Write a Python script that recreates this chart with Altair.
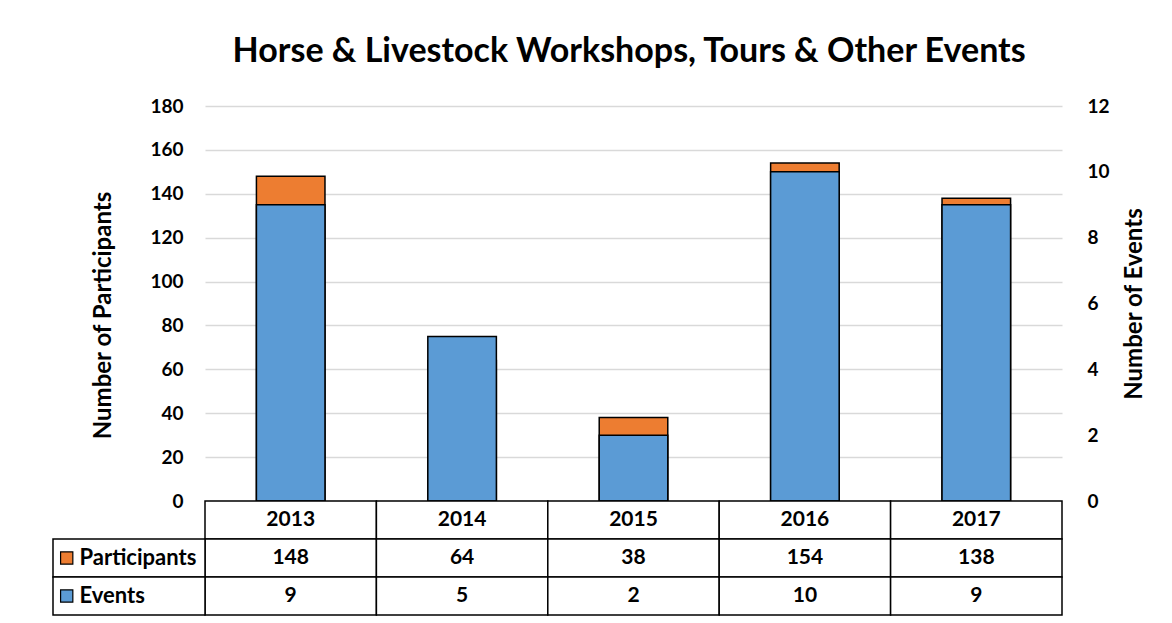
import altair as alt
import pandas as pd

years = ["2013", "2014", "2015", "2016", "2017"]
participants = [148, 64, 38, 154, 138]
events = [9, 5, 2, 10, 9]
series_names = ["Participants", "Events"]
left_ticks = [0, 20, 40, 60, 80, 100, 120, 140, 160, 180]
right_ticks = [0, 2, 4, 6, 8, 10, 12]

ORANGE = "#ED7D31"
BLUE = "#5B9BD5"
FONT = "Lato"
W, H = 857, 395
ROW_H = 38
LABEL_COL = 152 / (W / 5)  # label column width in column units

df = pd.DataFrame({"Year": years, "Participants": participants, "Events": events})

xenc = alt.X("Year:N", axis=None, sort=years,
             scale=alt.Scale(paddingInner=0.6, paddingOuter=0.3))

orange = alt.Chart(df).mark_bar(color=ORANGE, stroke="black", strokeWidth=1.5).encode(
    x=xenc,
    y=alt.Y("Participants:Q",
            scale=alt.Scale(domain=[0, 180], nice=False),
            axis=alt.Axis(values=left_ticks, title="Number of Participants",
                          grid=True, gridColor="#d9d9d9", gridWidth=1.5,
                          domain=False, ticks=False, labelPadding=22,
                          labelFont=FONT, labelFontSize=19, labelFontWeight="bold",
                          labelColor="black", titleFont=FONT, titleFontSize=24,
                          titleFontWeight="bold", titleColor="black", titlePadding=34,
                          titleY=209)),
)

blue = alt.Chart(df).mark_bar(color=BLUE, stroke="black", strokeWidth=1.5).encode(
    x=xenc,
    y=alt.Y("Events:Q",
            scale=alt.Scale(domain=[0, 12], nice=False),
            axis=alt.Axis(orient="right", values=right_ticks, title="Number of Events",
                          grid=False, domain=False, ticks=False, labelPadding=25,
                          labelFont=FONT, labelFontSize=19, labelFontWeight="bold",
                          labelColor="black", titleFont=FONT, titleFontSize=24,
                          titleFontWeight="bold", titleColor="black", titlePadding=37,
                          titleAngle=270)),
)

top = alt.layer(orange, blue).resolve_scale(y="independent").properties(width=W, height=H)

# ---- data table ----
rows = ["h", "p", "e"]
cells = []
for i, yr in enumerate(years):
    cells.append({"row": "h", "x0": i, "x1": i + 1, "xc": i + 0.5, "label": yr})
    cells.append({"row": "p", "x0": i, "x1": i + 1, "xc": i + 0.5, "label": str(participants[i])})
    cells.append({"row": "e", "x0": i, "x1": i + 1, "xc": i + 0.5, "label": str(events[i])})
for r in ["p", "e"]:
    cells.append({"row": r, "x0": -LABEL_COL, "x1": 0, "xc": None, "label": ""})
cells_df = pd.DataFrame(cells)

keys_df = pd.DataFrame({
    "row": ["p", "e"],
    "series": series_names,
    "kx": [-LABEL_COL + 0.08, -LABEL_COL + 0.08],
    "tx": [-LABEL_COL + 0.155, -LABEL_COL + 0.155],
})

xs = alt.Scale(domain=[0, 5], nice=False, zero=False)
ys = alt.Y("row:N", scale=alt.Scale(domain=rows, paddingInner=0, paddingOuter=0), axis=None)

cell_rects = alt.Chart(cells_df).mark_rect(fill="white", stroke="black", strokeWidth=1.5).encode(
    x=alt.X("x0:Q", scale=xs, axis=None), x2="x1:Q", y=ys)

cell_text = alt.Chart(cells_df).transform_filter("datum.label != ''").mark_text(
    font=FONT, fontSize=21, fontWeight="bold", color="black").encode(
    x=alt.X("xc:Q", scale=xs, axis=None), y=ys, text="label:N")

key_marks = alt.Chart(keys_df).mark_square(size=150, opacity=1, stroke="black", strokeWidth=1.2).encode(
    x=alt.X("kx:Q", scale=xs, axis=None), y=ys,
    fill=alt.Fill("series:N", scale=alt.Scale(domain=series_names, range=[ORANGE, BLUE]), legend=None))

key_text = alt.Chart(keys_df).mark_text(font=FONT, fontSize=22, fontWeight="bold",
                                        color="black", align="left").encode(
    x=alt.X("tx:Q", scale=xs, axis=None), y=ys, text="series:N")

table = alt.layer(cell_rects, cell_text, key_marks, key_text).properties(width=W, height=ROW_H * 3)

chart = alt.vconcat(top, table, spacing=0, bounds="flush").properties(
    title=alt.TitleParams("Horse & Livestock Workshops, Tours & Other Events",
                          font=FONT, fontSize=34, fontWeight="bold", color="black",
                          anchor="middle", offset=28, dx=30),
    padding={"left": 44, "top": 27, "right": 10, "bottom": 5},
).configure_view(stroke=None)

chart.save("out.html", embed_options={"renderer": "svg", "actions": False})
